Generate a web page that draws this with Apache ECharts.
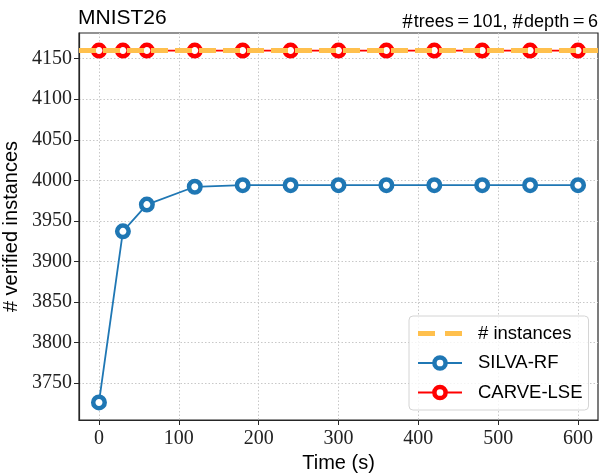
<!DOCTYPE html>
<html>
<head>
<meta charset="utf-8">
<script src="https://cdn.jsdelivr.net/npm/echarts@6/dist/echarts.min.js"></script>
<style>html,body{margin:0;padding:0;background:#fff;}#c{width:599px;height:473px;}</style>
</head>
<body>
<div id="c"></div>
<script>
const titleLeft = 'MNIST26';
const titleRight = '{h|#}trees{e|=}101, {h|#}depth{e|=}6';
const times = [0, 30, 60, 120, 180, 240, 300, 360, 420, 480, 540, 600];
const silvaRF = [3726, 3937, 3970, 3992, 3994, 3994, 3994, 3994, 3994, 3994, 3994, 3994];
const carveLSE = [4160, 4160, 4160, 4160, 4160, 4160, 4160, 4160, 4160, 4160, 4160, 4160];
const nInstances = 4160;
const xTicks = [0, 100, 200, 300, 400, 500, 600];
const yTicks = [3750, 3800, 3850, 3900, 3950, 4000, 4050, 4100, 4150];
const xRange = [-25, 625];
const yRange = [3704.3, 4181.7];

const sans = 'Liberation Sans';
const serif = 'Liberation Serif';
const orange = '#ffc04d';
const blue = '#1f77b4';
const red = '#ff0000';
const chart = echarts.init(document.getElementById('c'));
const ring = (color) => ({color: '#ffffff', borderColor: color, borderWidth: 4.5});
const plain = (v) => String(v);

chart.setOption({
  animation: false,
  title: [
    {text: titleLeft, left: 78, top: 8, padding: 0,
     textStyle: {fontFamily: sans, fontSize: 21, fontWeight: 'normal', color: '#000'}},
    {text: titleRight, right: 1, top: 12, padding: 0,
     textStyle: {fontFamily: sans, fontSize: 18, fontWeight: 'normal', color: '#000',
       rich: {
         h: {fontFamily: serif, fontSize: 21, color: '#000', padding: [0, 1, 0, 0]},
         e: {fontFamily: serif, fontSize: 21, color: '#000', padding: [0, 3.5, 0, 3.5]}
       }}}
  ],
  grid: {left: 79, right: 1, top: 33, bottom: 53, show: true, borderColor: '#262626', borderWidth: 1.2,
         containLabel: false, outerBoundsMode: 'none'},
  legend: {
    orient: 'vertical', left: 409, top: 316,
    data: [
      {name: '# instances', icon: 'path://M0,0H17V5H0Z M27,0H44V5H27Z', itemStyle: {color: orange, borderWidth: 0}},
      {name: 'SILVA-RF', itemStyle: {color: '#fff', borderColor: blue, borderWidth: 4.5}},
      {name: 'CARVE-LSE', itemStyle: {color: '#fff', borderColor: red, borderWidth: 4.5}}
    ],
    itemWidth: 44, itemHeight: 14, itemGap: 10.5,
    padding: [8, 6, 8, 8],
    borderColor: '#d4d4d4', borderWidth: 1, borderRadius: 4,
    backgroundColor: 'rgba(255,255,255,0.8)',
    textStyle: {fontFamily: sans, fontSize: 18.5, color: '#000', padding: [0, 0, 0, 11]}
  },
  xAxis: {
    type: 'value', min: xRange[0], max: xRange[1],
    name: 'Time (s)', nameLocation: 'middle', nameGap: 28,
    nameTextStyle: {fontFamily: sans, fontSize: 20, color: '#000'},
    axisLine: {show: true, onZero: false, lineStyle: {color: '#262626', width: 1.2}},
    axisTick: {show: true, inside: false, length: 5, lineStyle: {color: '#262626'}, customValues: xTicks},
    axisLabel: {fontFamily: serif, fontSize: 20, color: '#222', margin: 9, customValues: xTicks, formatter: plain},
    splitLine: {show: true, lineStyle: {color: '#c8c8c8', width: 1, type: [1.5, 2]}}
  },
  yAxis: {
    type: 'value', min: yRange[0], max: yRange[1],
    name: '# verified instances', nameLocation: 'middle', nameGap: 54,
    nameTextStyle: {fontFamily: sans, fontSize: 20, color: '#000'},
    axisLine: {show: true, onZero: false, lineStyle: {color: '#262626', width: 1.2}},
    axisTick: {show: true, inside: false, length: 5, lineStyle: {color: '#262626'}, customValues: yTicks},
    axisLabel: {fontFamily: serif, fontSize: 20, color: '#222', margin: 7, customValues: yTicks, formatter: plain},
    splitLine: {show: true, lineStyle: {color: '#c8c8c8', width: 1, type: [1.5, 2]}}
  },
  series: [
    {
      name: '# instances', type: 'line', data: [], symbol: 'none', z: 1,
      itemStyle: {color: orange},
      lineStyle: {color: orange, width: 5, type: [17, 7]},
      markLine: {
        silent: true, symbol: ['none', 'none'], label: {show: false},
        lineStyle: {color: orange, width: 5, type: [17, 7]},
        data: [{yAxis: nInstances}]
      }
    },
    {
      name: 'SILVA-RF', type: 'line', z: 3,
      data: times.map((t, i) => [t, silvaRF[i]]),
      symbol: 'circle', symbolSize: 11.5, showAllSymbol: true,
      lineStyle: {color: blue, width: 1.8},
      itemStyle: ring(blue)
    },
    {
      name: 'CARVE-LSE', type: 'line', z: 4,
      data: times.map((t, i) => [t, carveLSE[i]]),
      symbol: 'circle', symbolSize: 11.5, showAllSymbol: true,
      lineStyle: {color: red, width: 1.8},
      itemStyle: ring(red)
    }
  ]
});
</script>
</body>
</html>
